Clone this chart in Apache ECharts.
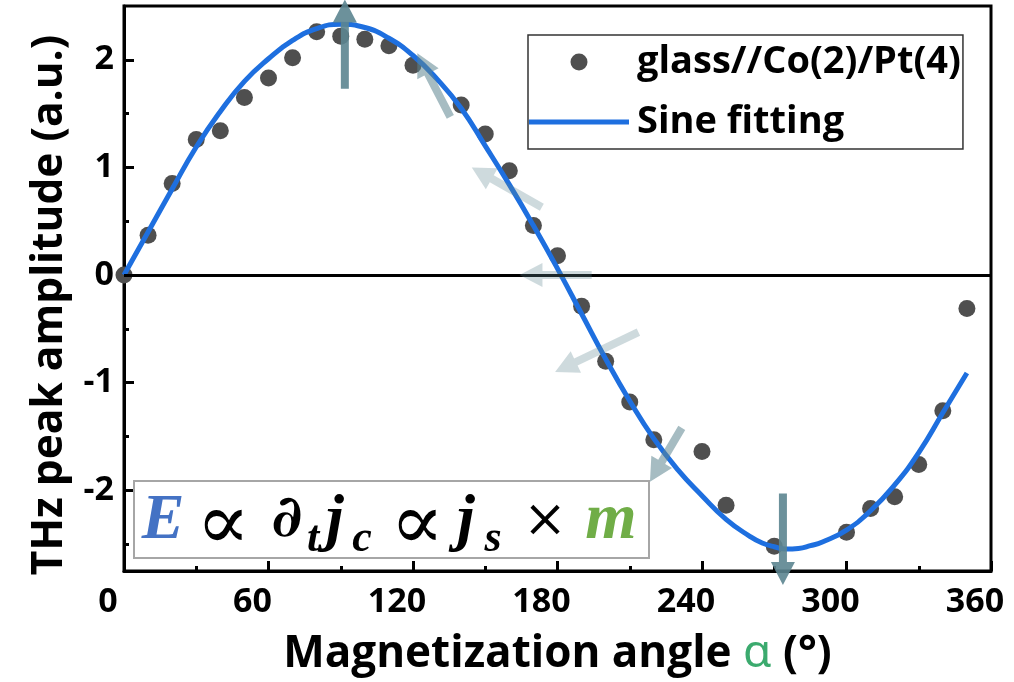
<!DOCTYPE html>
<html>
<head>
<meta charset="utf-8">
<script src="https://cdn.jsdelivr.net/npm/echarts@6/dist/echarts.min.js"></script>
<style>
  html, body { margin: 0; padding: 0; background: #ffffff; }
  #chart { width: 1014px; height: 682px; }
</style>
</head>
<body>
<div id="chart"></div>
<script>
// Measured THz peak amplitude against magnetization angle
const angles = [0, 10, 20, 30, 40, 50, 60, 70, 80, 90, 100, 110, 120, 140, 150, 160, 170, 180,
  190, 200, 210, 220, 240, 250, 270, 300, 310, 320, 330, 340, 350];
const amplitudes = [0, 0.37, 0.85, 1.26, 1.34, 1.65, 1.83, 2.02, 2.26, 2.22, 2.19, 2.13, 1.95, 1.58,
  1.31, 0.97, 0.46, 0.18, -0.29, -0.80, -1.18, -1.53, -1.64, -2.14, -2.52, -2.39, -2.17, -2.06,
  -1.76, -1.26, -0.31];

// Sine fit, sampled every 10 degrees (every 5 near the minimum)
const fitAngles = [0, 10, 20, 30, 40, 50, 60, 70, 80, 90, 100, 110, 120, 130, 140, 150, 160, 170,
  180, 190, 200, 210, 220, 230, 240, 250, 260, 265, 270, 275, 280, 285, 290, 300, 310, 320, 330,
  340, 350];
const fitValues = [0, 0.40, 0.80, 1.19, 1.52, 1.80, 2.01, 2.18, 2.29, 2.33, 2.30, 2.20, 2.04, 1.82,
  1.55, 1.20, 0.84, 0.46, 0.06, -0.36, -0.78, -1.17, -1.52, -1.81, -2.05, -2.27, -2.43, -2.49,
  -2.525, -2.545, -2.54, -2.515, -2.48, -2.37, -2.19, -1.95, -1.65, -1.28, -0.91];

// Axis ticks
const xTickValues = [0, 60, 120, 180, 240, 300, 360];
const yTickValues = [-2, -1, 0, 1, 2];
const yMinorTickValues = [-2.5, -1.5, -0.5, 0.5, 1.5];

// Magnetization direction arrows: [tail angle, tail amplitude, tip angle, tip amplitude]
const arrows = [
  [91.7, 1.73, 91.7, 2.56],
  [135.5, 1.47, 121.8, 2.06],
  [173.5, 0.63, 144.4, 1.00],
  [194.2, 0.00, 164.2, 0.00],
  [213.6, -0.53, 179.0, -0.90],
  [231.6, -1.42, 218.4, -1.92],
  [273.6, -2.03, 273.6, -2.88]
];

const seriesNames = ['glass//Co(2)/Pt(4)', 'Sine fitting'];
const yTitle = 'THz peak amplitude (a.u.)';

// ---- drawing ----
const arrowOpacity = [0.9, 0.55, 0.3, 0.3, 0.3, 0.55, 0.9];
const FONT = 'Open Sans';
const scatterData = angles.map((a, i) => [a, amplitudes[i]]);
const fitData = fitAngles.map((a, i) => [a, fitValues[i]]);

function renderArrow(params, api) {
  const p0 = api.coord([api.value(0), api.value(1)]);
  const p1 = api.coord([api.value(2), api.value(3)]);
  const dx = p1[0] - p0[0], dy = p1[1] - p0[1];
  const len = Math.sqrt(dx * dx + dy * dy);
  const ux = dx / len, uy = dy / len;
  const nx = -uy, ny = ux;
  const headLen = 23, shaft = 4, head = 12;
  const bx = p1[0] - ux * headLen, by = p1[1] - uy * headLen;
  const pts = [
    [p0[0] + nx * shaft, p0[1] + ny * shaft],
    [bx + nx * shaft, by + ny * shaft],
    [bx + nx * head, by + ny * head],
    [p1[0], p1[1]],
    [bx - nx * head, by - ny * head],
    [bx - nx * shaft, by - ny * shaft],
    [p0[0] - nx * shaft, p0[1] - ny * shaft]
  ];
  return {
    type: 'polygon',
    shape: { points: pts },
    style: { fill: '#5c8590', opacity: arrowOpacity[params.dataIndex] }
  };
}

const tickStyle = { color: '#000', width: 3 };
const labelStyle = { fontFamily: FONT, fontWeight: 'bold', fontSize: 34, color: '#000' };
const mathText = (text, x, y, font, fill) => ({
  type: 'text', z: 6, x: x, y: y,
  style: { text: text, font: font, fill: fill || '#000', textAlign: 'center', textVerticalAlign: 'middle' }
});

const chart = echarts.init(document.getElementById('chart'), null, { renderer: 'canvas' });
chart.setOption({
  animation: false,
  backgroundColor: '#ffffff',
  grid: {
    left: 124, right: 23, top: 6, bottom: 104,
    show: true, borderColor: '#000', borderWidth: 3, backgroundColor: 'transparent'
  },
  legend: {
    data: [
      { name: seriesNames[0], icon: 'circle' },
      { name: seriesNames[1], icon: 'path://M0,0H100V5H0Z' }
    ],
    orient: 'vertical',
    left: 528, top: 35,
    itemWidth: 100, itemHeight: 17, itemGap: 20,
    padding: [7, 2, 7, 1],
    borderColor: '#333', borderWidth: 1.5, backgroundColor: '#fff',
    selectedMode: false,
    textStyle: { fontFamily: FONT, fontWeight: 'bold', fontSize: 38, color: '#000', lineHeight: 40, padding: [0, 0, 0, 3] }
  },
  xAxis: {
    type: 'value',
    min: xTickValues[0], max: xTickValues[xTickValues.length - 1],
    interval: xTickValues[1] - xTickValues[0],
    position: 'bottom',
    axisLine: { onZero: false, lineStyle: tickStyle },
    axisTick: { inside: true, length: 10, lineStyle: tickStyle },
    minorTick: { show: true, splitNumber: 2, length: 5, lineStyle: tickStyle },
    axisLabel: Object.assign({ margin: 14, padding: [0, 32, 0, 0] }, labelStyle),
    splitLine: { show: false },
    name: '{t|Magnetization angle }{g|α}{t| (°)}',
    nameLocation: 'middle',
    nameGap: 60,
    nameTextStyle: {
      rich: {
        t: { fontFamily: FONT, fontWeight: 'bold', fontSize: 44, color: '#000' },
        g: { fontFamily: 'Noto Sans', fontWeight: 'normal', fontSize: 46, color: '#3BAA6E' }
      }
    }
  },
  yAxis: [{
    type: 'value',
    min: -2.75, max: 2.5,
    position: 'left',
    axisLine: { onZero: false, lineStyle: tickStyle },
    axisTick: { inside: true, length: 10, lineStyle: tickStyle, customValues: yTickValues },
    axisLabel: Object.assign({ margin: 10, customValues: yTickValues }, labelStyle),
    splitLine: { show: false }
  }, {
    type: 'value',
    min: -2.75, max: 2.5,
    position: 'left',
    axisLine: { show: false, onZero: false },
    axisTick: { inside: true, length: 5, lineStyle: tickStyle, customValues: yMinorTickValues },
    axisLabel: { show: false },
    splitLine: { show: false }
  }],
  graphic: [
    { type: 'text', x: 50, y: 305, rotation: Math.PI / 2,
      style: { text: yTitle, font: 'bold 42.5px "Open Sans"', fill: '#000', textAlign: 'center', textVerticalAlign: 'middle' } },
    { type: 'rect', z: 5, shape: { x: 134, y: 481, width: 515, height: 77 },
      style: { fill: '#fff', stroke: '#a6a6a6', lineWidth: 2 } },
    mathText('E', 163, 521, 'italic bold 64px "Liberation Serif"', '#4472C4'),
    mathText('∝', 223, 528, '80px "DejaVu Serif"'),
    mathText('∂', 287, 521, 'bold 58px "DejaVu Serif"'),
    mathText('t', 313, 540, 'italic bold 44px "Liberation Serif"'),
    mathText('j', 335, 521, 'italic bold 64px "Liberation Serif"'),
    mathText('c', 362, 540, 'italic bold 44px "Liberation Serif"'),
    mathText('∝', 417, 528, '80px "DejaVu Serif"'),
    mathText('j', 466, 521, 'italic bold 64px "Liberation Serif"'),
    mathText('s', 493, 540, 'italic bold 44px "Liberation Serif"'),
    mathText('×', 545, 522, '52px "DejaVu Serif"'),
    mathText('m', 611, 521, 'italic bold 66px "Liberation Serif"', '#70AD47')
  ],
  series: [{
    name: seriesNames[0],
    type: 'scatter',
    data: scatterData,
    symbol: 'circle',
    symbolSize: 17,
    itemStyle: { color: '#4f4f4f', opacity: 1 },
    z: 2
  }, {
    name: seriesNames[1],
    type: 'line',
    data: fitData,
    smooth: true,
    symbol: 'none',
    lineStyle: { color: '#1E6FDF', width: 5 },
    itemStyle: { color: '#1E6FDF' },
    z: 3,
    markLine: {
      silent: true,
      symbol: ['none', 'none'],
      label: { show: false },
      lineStyle: { color: '#000', width: 3, type: 'solid' },
      data: [{ yAxis: 0 }]
    }
  }, {
    name: 'arrows',
    type: 'custom',
    data: arrows,
    encode: { x: [0, 2], y: [1, 3] },
    renderItem: renderArrow,
    clip: false,
    silent: true,
    z: 10
  }]
});
</script>
</body>
</html>
